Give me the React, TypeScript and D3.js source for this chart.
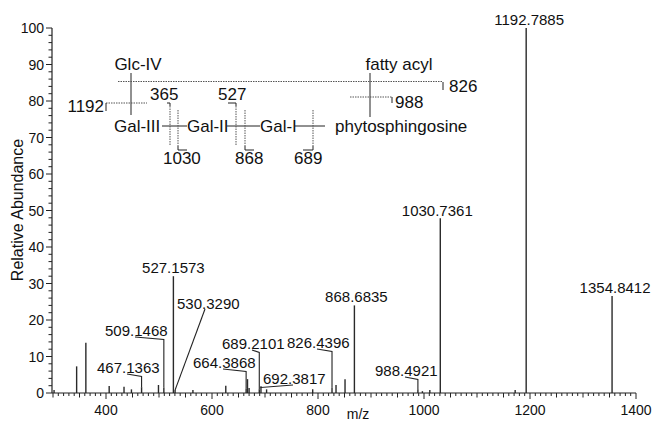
import React from "react";
import * as d3 from "d3";

// peaks (m/z, relative abundance %)
const peakMz = [302, 344.6, 362, 406, 434, 448, 467.1363, 499, 509.1468, 527.1573, 530.329, 564, 626, 664.3868, 667, 670, 689.2101, 692.3817, 703, 790, 826.4396, 834, 851, 868.6835, 988.4921, 997, 1011, 1030.7361, 1172, 1192.7885, 1354.8412];
const peakAbund = [0.8, 7.3, 13.8, 1.9, 1.7, 1.0, 1.6, 2.2, 1.5, 32, 0.8, 0.8, 2.0, 1.2, 3.8, 1.4, 1.0, 1.8, 1.0, 1.0, 1.5, 2.2, 3.8, 24, 1.0, 0.5, 0.8, 47.9, 0.8, 100, 26.6];

// labelled peaks
const topLabelMz = [1192.7885, 1030.7361, 1354.8412, 868.6835, 527.1573];
const topLabelText = ["1192.7885", "1030.7361", "1354.8412", "868.6835", "527.1573"];
const leaderLabelMz = [467.1363, 509.1468, 530.329, 664.3868, 689.2101, 692.3817, 826.4396, 988.4921];
const leaderLabelText = ["467.1363", "509.1468", "530.3290", "664.3868", "689.2101", "692.3817", "826.4396", "988.4921"];

const xTicks = [400, 600, 800, 1000, 1200, 1400];
const yTicks = [0, 10, 20, 30, 40, 50, 60, 70, 80, 90, 100];

// layout only
const topLabelPos = [[3, -3], [-3, -2], [3, -3], [2, -3], [0, -3]]; // dx, dy from peak top
const leaderLabelPos = [[97, 372.5], [105, 335.5], [177, 309], [193, 367.5], [222, 348.5], [263, 383.5], [287, 347.5], [375, 375.5]]; // text left, baseline

const FONT = "'Liberation Sans', Arial, Helvetica, sans-serif";

function Structure() {
	const dot = { stroke: "#555", strokeWidth: 1, strokeDasharray: "1.5,1", fill: "none" };
	const sol = { stroke: "#222", strokeWidth: 1, fill: "none" };
	const t17 = { fontFamily: FONT, fontSize: 17, fill: "#111" };
	return (
		<g>
			<text x={138} y={70} textAnchor="middle" {...t17}>Glc-IV</text>
			<text x={399} y={69.5} textAnchor="middle" {...t17}>fatty acyl</text>
			<text x={114} y={131.5} {...t17}>Gal-III</text>
			<text x={187} y={131.5} {...t17}>Gal-II</text>
			<text x={260} y={131.5} {...t17}>Gal-I</text>
			<text x={335} y={131.5} {...t17}>phytosphingosine</text>
			<text x={104} y={112} textAnchor="end" {...t17}>1192</text>
			<text x={150} y={99.5} {...t17}>365</text>
			<text x={218} y={100} {...t17}>527</text>
			<text x={163} y={164} {...t17}>1030</text>
			<text x={235} y={164} {...t17}>868</text>
			<text x={294} y={164} {...t17}>689</text>
			<text x={395} y={107.5} {...t17}>988</text>
			<text x={449} y={91.5} {...t17}>826</text>

			{/* bonds */}
			<line x1={131} x2={131} y1={73} y2={115} {...sol} />
			<line x1={370} x2={370} y1={73} y2={117} {...sol} />
			<line x1={162} x2={187} y1={126} y2={126} {...sol} />
			<line x1={227} x2={260} y1={126} y2={126} {...sol} />
			<line x1={295} x2={325} y1={126} y2={126} {...sol} />

			{/* cleavage brackets */}
			<line x1={118} x2={443} y1={81.5} y2={81.5} {...dot} />
			<line x1={443} x2={443} y1={82} y2={90} {...sol} />
			<line x1={106} x2={147} y1={103} y2={103} {...dot} />
			<line x1={106} x2={106} y1={103} y2={111} {...sol} />
			<line x1={350} x2={392} y1={97} y2={97} {...dot} />
			<line x1={392} x2={392} y1={97} y2={103} {...sol} />

			<polyline points="167,103 170,103 170,106" {...sol} />
			<line x1={170} x2={170} y1={106} y2={145} {...dot} />
			<line x1={178} x2={178} y1={110} y2={146} {...dot} />
			<polyline points="178,146 178,150 187,150" {...sol} />

			<polyline points="228,103 236,103 236,106" {...sol} />
			<line x1={236} x2={236} y1={106} y2={145} {...dot} />
			<line x1={245} x2={245} y1={110} y2={146} {...dot} />
			<polyline points="245,146 245,150 254,150" {...sol} />

			<line x1={313} x2={313} y1={110} y2={146} {...dot} />
			<polyline points="313,146 313,150 303,150" {...sol} />
		</g>
	);
}

export default function App() {
	const width = 655;
	const height = 423;

	const x = d3.scaleLinear().domain([300, 1400]).range([53, 636]);
	const y = d3.scaleLinear().domain([0, 100]).range([393, 28]);

	const minorX = d3.range(300, 1401, 10);
	const minorY = d3.range(0, 101, 2);

	const txt = { fontFamily: FONT, fontSize: 14, fill: "#111" };
	const lbl = { fontFamily: FONT, fontSize: 15, fill: "#111" };
	const ink = "#222";

	return (
		<svg width={width} height={height} style={{ position: "absolute", left: 0, top: 0, background: "#fff" }}>
			{/* peaks */}
			{peakMz.map((m, i) => (
				<line key={"p" + i} x1={x(m)} x2={x(m)} y1={y(0)} y2={y(peakAbund[i])} stroke="#2a2a2a" strokeWidth={1.4} />
			))}

			{/* axes */}
			<line x1={52} x2={52} y1={y(0)} y2={y(100)} stroke={ink} strokeWidth={1.2} />
			<line x1={52} x2={x(1400)} y1={y(0)} y2={y(0)} stroke={ink} strokeWidth={1.2} />
			{minorY.map((v) => (
				<line key={"yt" + v} x1={52} x2={v % 10 === 0 ? 46 : 48.5} y1={y(v)} y2={y(v)} stroke={ink} strokeWidth={1} />
			))}
			{yTicks.map((v) => (
				<text key={"yl" + v} x={44} y={y(v) + 5} textAnchor="end" {...txt}>{v}</text>
			))}
			{minorX.map((v) => (
				<line key={"xt" + v} x1={x(v)} x2={x(v)} y1={y(0)} y2={y(0) + (v % 200 === 0 ? 6 : v % 50 === 0 ? 4.5 : 3)} stroke={ink} strokeWidth={1} />
			))}
			{xTicks.map((v) => (
				<text key={"xl" + v} x={x(v)} y={415} textAnchor="middle" {...txt}>{v}</text>
			))}
			<text x={358} y={419} textAnchor="middle" {...txt}>m/z</text>
			<text transform="translate(23,210) rotate(-90)" textAnchor="middle" fontFamily={FONT} fontSize={16} fill="#111">Relative Abundance</text>

			{/* labels on top of peaks */}
			{topLabelMz.map((m, i) => {
				const k = peakMz.indexOf(m);
				return (
					<text key={"tl" + i} x={x(m) + topLabelPos[i][0]} y={y(peakAbund[k]) + topLabelPos[i][1]} textAnchor="middle" {...lbl}>
						{topLabelText[i]}
					</text>
				);
			})}

			{/* labels with leader lines */}
			{leaderLabelMz.map((m, i) => {
				const k = peakMz.indexOf(m);
				const [tx, ty] = leaderLabelPos[i];
				const px = x(m);
				const py = y(peakAbund[k]);
				const sx = tx + 30;
				const pts = m === 530.329
					? `${tx + 28},${ty} ${px},${py}`
					: `${sx},${ty + 1.5} ${px},${ty + 4} ${px},${py}`;
				return (
					<g key={"ll" + i}>
						<text x={tx} y={ty} {...lbl}>{leaderLabelText[i]}</text>
						<polyline points={pts} fill="none" stroke={ink} strokeWidth={1.1} />
					</g>
				);
			})}

			<Structure />
		</svg>
	);
}
